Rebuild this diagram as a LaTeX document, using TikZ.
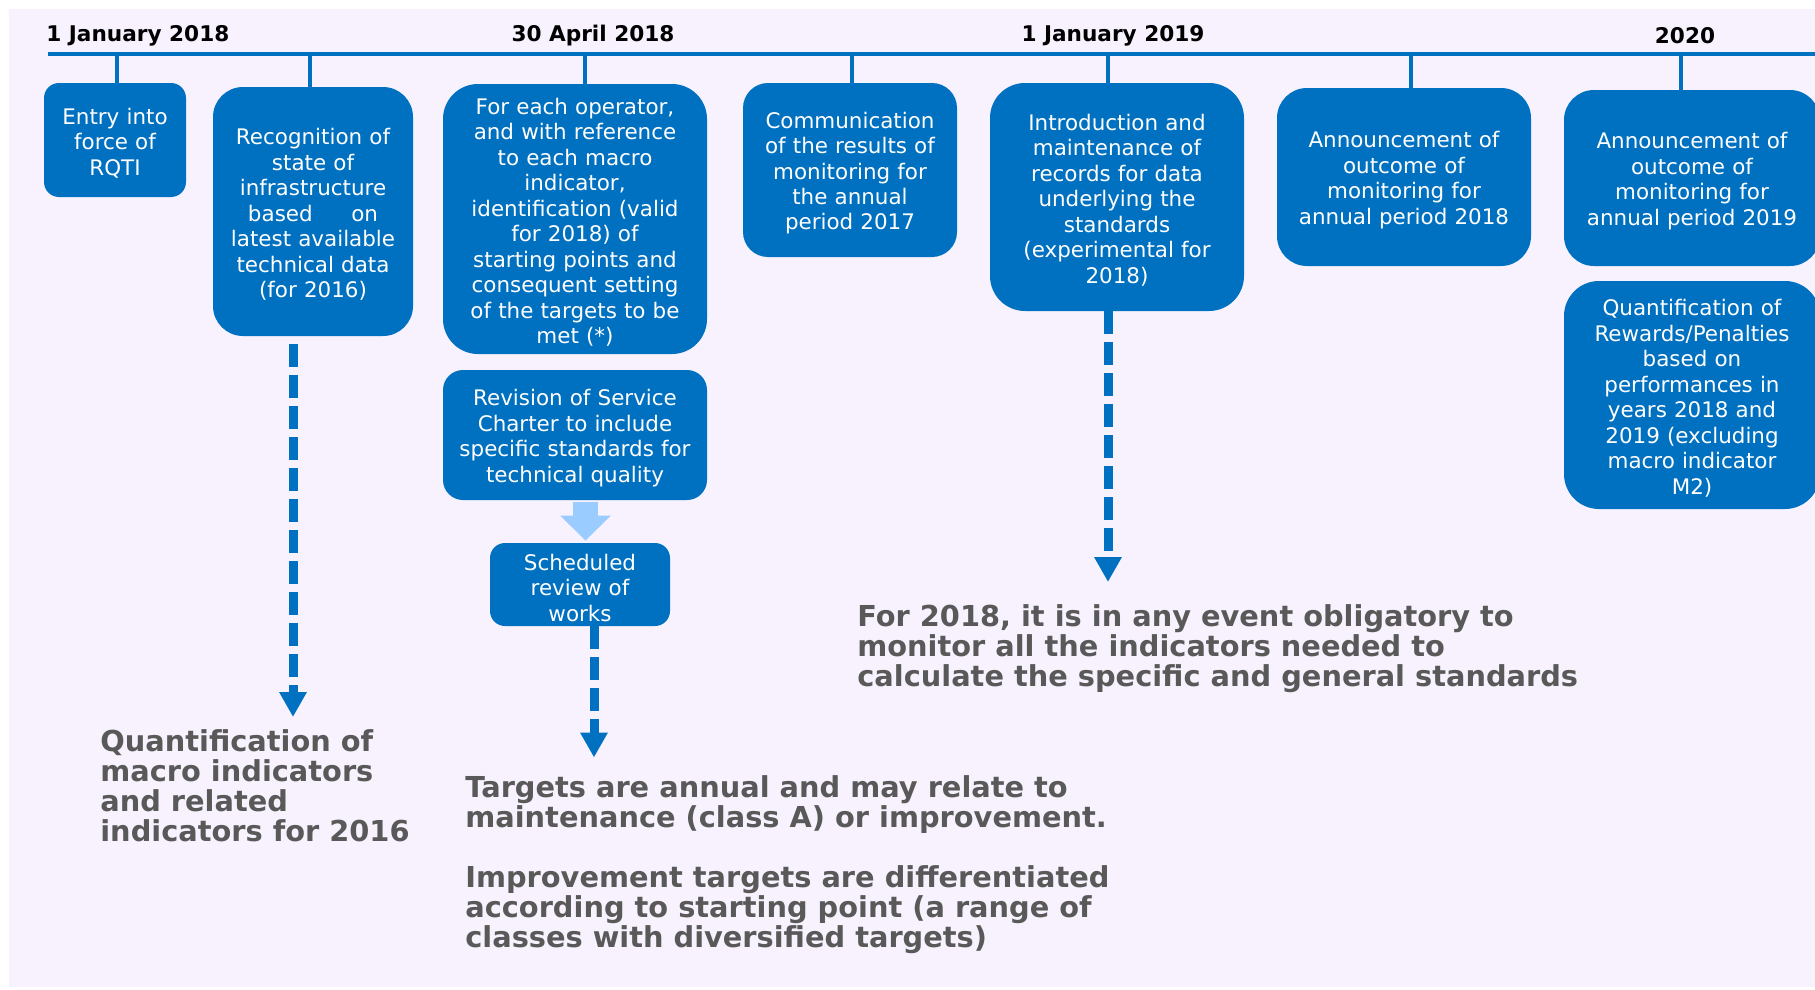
\documentclass[tikz,border=0pt]{standalone}
\usepackage{fontspec}
\setmainfont{DejaVu Sans}
\usetikzlibrary{positioning,arrows.meta}

\definecolor{boxblue}{HTML}{0070C0}
\definecolor{lightarrow}{HTML}{9BCCFF}
\definecolor{bgpaper}{HTML}{F7F2FD}
\definecolor{notegray}{HTML}{595959}

\newcommand{\stagefont}{\fontsize{12.2}{14.5}\selectfont}
\newcommand{\notefont}{\fontsize{16.4}{17.1}\selectfont\bfseries}
\newcommand{\datefont}{\fontsize{12.3}{14}\selectfont\bfseries}

\tikzset{
  stage/.style={fill=boxblue, text=white, align=center, font=\stagefont, inner sep=0pt,
    text width=#1, minimum width=#1, execute at begin node={\rule{0pt}{12.8pt}}},
  note/.style={anchor=north west, inner sep=0pt, align=left, text=notegray, font=\notefont},
  date/.style={font=\datefont, inner sep=0pt},
  tick/.style={boxblue, line width=2.2pt},
  flow/.style={boxblue, line width=0.18cm, dash pattern=on 0.46cm off 0.16cm,
    -{Triangle[width=0.52cm,length=0.5cm]}},
}

\begin{document}
\begin{tikzpicture}
  \useasboundingbox (0,0) rectangle (36.3,-19.8);
  \fill[bgpaper] (0.18,-0.18) rectangle (36.3,-19.74);

  % time axis
  \draw[boxblue, line width=2.3pt] (0.96,-1.08) -- (36.3,-1.08);
  \node[date, anchor=west] (d1) at (0.92,-0.71) {1 January 2018};
  \node[date] (d2) at (11.86,-0.71) {30 April 2018};
  \node[date] (d3) at (22.26,-0.71) {1 January 2019};
  \node[date] (d4) at (33.7,-0.71) {2020};

  % stages
  \node[stage=2.84cm, rounded corners=0.3cm, minimum height=2.28cm] (rqti) at (2.3,-2.8)
    {Entry into\\force of\\RQTI};
  \node[stage=4.0cm, rounded corners=0.6cm, minimum height=4.98cm] (recog) at (6.26,-4.23)
    {Recognition of\\state of\\infrastructure\\based\hspace{1.8em}on\\latest available\\technical data\\(for 2016)};
  \node[stage=5.28cm, rounded corners=0.7cm, minimum height=5.4cm] (opset) at (11.5,-4.38)
    {For each operator,\\and with reference\\to each macro\\indicator,\\identification (valid\\for 2018) of\\starting points and\\consequent setting\\of the targets to be\\met (*)};
  \node[stage=5.28cm, rounded corners=0.4cm, minimum height=2.6cm] (charter) at (11.5,-8.7)
    {Revision of Service\\Charter to include\\specific standards for\\technical quality};
  \node[stage=3.6cm, rounded corners=0.3cm, minimum height=1.66cm] (works) at (11.6,-11.69)
    {Scheduled\\review of\\works};
  \node[stage=4.28cm, rounded corners=0.5cm, minimum height=3.48cm] (comm) at (17.0,-3.4)
    {Communication\\of the results of\\monitoring for\\the annual\\period 2017};
  \node[stage=5.08cm, rounded corners=0.7cm, minimum height=4.56cm] (records) at (22.34,-3.94)
    {Introduction and\\maintenance of\\records for data\\underlying the\\standards\\(experimental for\\2018)};
  \node[stage=5.08cm, rounded corners=0.6cm, minimum height=3.56cm] (out18) at (28.08,-3.54)
    {Announcement of\\outcome of\\monitoring for\\annual period 2018};
  \node[stage=5.12cm, rounded corners=0.6cm, minimum height=3.52cm] (out19) at (33.84,-3.56)
    {Announcement of\\outcome of\\monitoring for\\annual period 2019};
  \node[stage=5.12cm, rounded corners=0.7cm, minimum height=4.56cm] (rewards) at (33.84,-7.9)
    {Quantification of\\Rewards/Penalties\\based on\\performances in\\years 2018 and\\2019 (excluding\\macro indicator\\M2)};

  \foreach \x/\n in {2.34/rqti, 6.2/recog, 11.7/opset, 17.04/comm, 22.16/records, 28.22/out18, 33.62/out19}
    \draw[tick] (\x,-1.08) -- (\x,0 |- \n.north);

  % notes
  \node[note] (q2016) at (2.0,-14.59)
    {Quantification of\\macro indicators\\and related\\indicators for 2016};
  \node[note] (tgt) at (9.3,-15.5)
    {Targets are annual and may relate to\\maintenance (class A) or improvement.\\[17.1pt]Improvement targets are differentiated\\according to starting point (a range of\\classes with diversified targets)};
  \node[note] (oblig) at (17.14,-12.09)
    {For 2018, it is in any event obligatory to\\monitor all the indicators needed to\\calculate the specific and general standards};

  % arrows
  \draw[lightarrow, line width=0.5cm, -{Triangle[width=0.98cm,length=0.5cm]}]
    ([xshift=0.21cm,yshift=-0.04cm]charter.south) -- ([xshift=0.21cm,yshift=0.04cm]charter.south |- works.north);
  \draw[flow, shorten <=0.16cm, shorten >=0.25cm] ([xshift=-0.4cm]recog.south) -- ([xshift=-0.4cm]recog.south |- q2016.north);
  \draw[flow, shorten >=0.35cm] ([xshift=0.28cm]works.south) -- ([xshift=0.28cm]works.south |- tgt.north);
  \draw[flow, shorten >=0.45cm] ([xshift=-0.18cm]records.south) -- ([xshift=-0.18cm]records.south |- oblig.north);
\end{tikzpicture}
\end{document}
